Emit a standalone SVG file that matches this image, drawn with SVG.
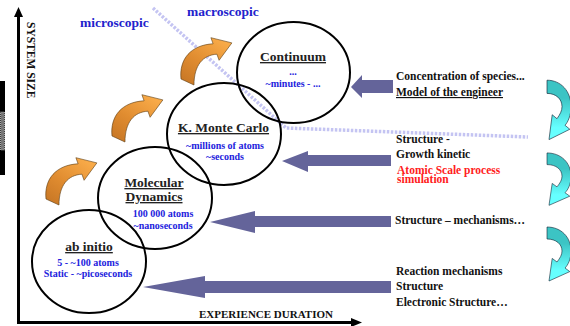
<svg xmlns="http://www.w3.org/2000/svg" width="570" height="326" viewBox="0 0 570 326">
<style>
text{font-family:"Liberation Serif","Times New Roman",serif;font-weight:bold}
.title{font-size:13.5px;fill:#222;text-anchor:middle;text-decoration:underline}
.blue{font-size:10px;fill:#2222dd;text-anchor:middle}
.scale{font-size:13.5px;fill:#2222cc}
.lbl{font-size:11.5px;fill:#111}
.red{font-size:11.5px;fill:#ff2020}
.axis{font-size:11px;fill:#111}
.node{fill:none;stroke:#000;stroke-width:2}
.big{fill:#64649a}
.orange{fill:url(#og);stroke:#5a3a10;stroke-width:0.6}
.cyan{fill:url(#cg);stroke:#123;stroke-width:0.6}
</style>
<defs>
<linearGradient id="og" x1="0" y1="1" x2="0.7" y2="0">
<stop offset="0" stop-color="#c47424"/>
<stop offset="0.5" stop-color="#e08c30"/>
<stop offset="1" stop-color="#f8aa48"/>
</linearGradient>
<linearGradient id="cg" x1="0" y1="0.3" x2="0" y2="0.8">
<stop offset="0" stop-color="#3cc4c4"/>
<stop offset="1" stop-color="#66ffff"/>
</linearGradient>
<path id="oa" d="M2,44 C0,24 12,10 34.1,8.8 L31.9,2.7 L52.9,7.9 L40.1,25.3 L37.9,19.2 C24,20 15,30 15,50 Z"/>
<path id="ca" d="M2,2 C16,2 26,12 26,26 C26,34 23,40 20,43 L24.8,46.6 L4,56 L7.2,33.4 L12,37 C15,33 17,30 17,26 C17,19 11,14 2,14 Z"/>
</defs>
<rect width="570" height="326" fill="#fff"/>

<g id="sidebar">
<rect x="0" y="81" width="5" height="94" fill="#000"/>
<rect x="0.5" y="112" width="4" height="38" fill="#777" stroke="#aaa" stroke-width="1" stroke-dasharray="1 1"/>
</g>

<g id="axes">
<line x1="18.5" y1="16" x2="18.5" y2="323.5" stroke="#000" stroke-width="3"/>
<polygon points="18.5,7 14,17 23,17" fill="#000"/>
<line x1="17" y1="322.5" x2="352" y2="322.5" stroke="#000" stroke-width="3"/>
<polygon points="362,322.5 351,318 351,327" fill="#000"/>
<text class="axis" transform="translate(27,22) rotate(90)" style="font-size:11.5px">SYSTEM SIZE</text>
<text class="axis" x="199" y="318">EXPERIENCE DURATION</text>
</g>

<g id="scale-split">
<polyline points="153,8 286,128 528,137" fill="none" stroke="#c4c4f2" stroke-width="3.5" stroke-dasharray="2.5 1.5"/>
<text class="scale" x="80" y="27">microscopic</text>
<text class="scale" x="187" y="16">macroscopic</text>
</g>

<g id="connectors">
<path class="big" d="M393,80 L362,80 L362,75 L351,87 L362,98 L362,93 L393,93 Z"/>
<path class="big" d="M391,155 L308,155 L308,151 L282,161 L308,172 L308,166 L391,166 Z"/>
<path class="big" d="M391,216 L255,216 L255,211 L210,222 L255,233 L255,227 L391,227 Z"/>
<path class="big" d="M391,281 L205,281 L205,276 L143,287 L205,298 L205,293 L391,293 Z"/>
<use href="#oa" class="orange" transform="translate(179,35)"/>
<use href="#oa" class="orange" transform="translate(110,92)"/>
<use href="#oa" class="orange" transform="translate(44,155)"/>
<use href="#ca" class="cyan" transform="translate(545,78) scale(1,1.1)"/>
<use href="#ca" class="cyan" transform="translate(545,151) scale(1,0.97)"/>
<use href="#ca" class="cyan" transform="translate(545,225)"/>
</g>

<g id="continuum">
<ellipse class="node" cx="293.5" cy="72.5" rx="56.5" ry="50.5"/>
<text class="title" x="293" y="61">Continuum</text>
<text class="blue" x="293" y="75">...</text>
<text class="blue" x="293" y="87">~minutes - ...</text>
</g>

<g id="kmc">
<ellipse class="node" cx="224" cy="134" rx="57" ry="51"/>
<text class="title" x="223.5" y="132">K. Monte Carlo</text>
<text class="blue" x="225" y="149">~millions of atoms</text>
<text class="blue" x="225" y="160">~seconds</text>
</g>

<g id="md">
<ellipse class="node" cx="155" cy="198" rx="57" ry="51"/>
<text class="title" x="154" y="187">Molecular</text>
<text class="title" x="154" y="201">Dynamics</text>
<text class="blue" x="163" y="217">100 000 atoms</text>
<text class="blue" x="163" y="229">~nanoseconds</text>
</g>

<g id="abinitio">
<ellipse class="node" cx="89" cy="261.5" rx="57" ry="51.5"/>
<text class="title" x="89" y="251">ab initio</text>
<text class="blue" x="88" y="266">5 - ~100 atoms</text>
<text class="blue" x="88" y="277">Static - ~picoseconds</text>
</g>

<g id="labels">
<text class="lbl" x="396" y="80">Concentration of species...</text>
<text class="lbl" x="396" y="96" text-decoration="underline">Model of the engineer</text>
<text class="lbl" x="396" y="143">Structure -</text>
<text class="lbl" x="396" y="158">Growth kinetic</text>
<text class="red" x="397" y="174">Atomic Scale process</text>
<text class="red" x="397" y="183">simulation</text>
<text class="lbl" x="395" y="224">Structure – mechanisms…</text>
<text class="lbl" x="396" y="275">Reaction mechanisms</text>
<text class="lbl" x="396" y="290">Structure</text>
<text class="lbl" x="396" y="306">Electronic Structure…</text>
</g>
</svg>
